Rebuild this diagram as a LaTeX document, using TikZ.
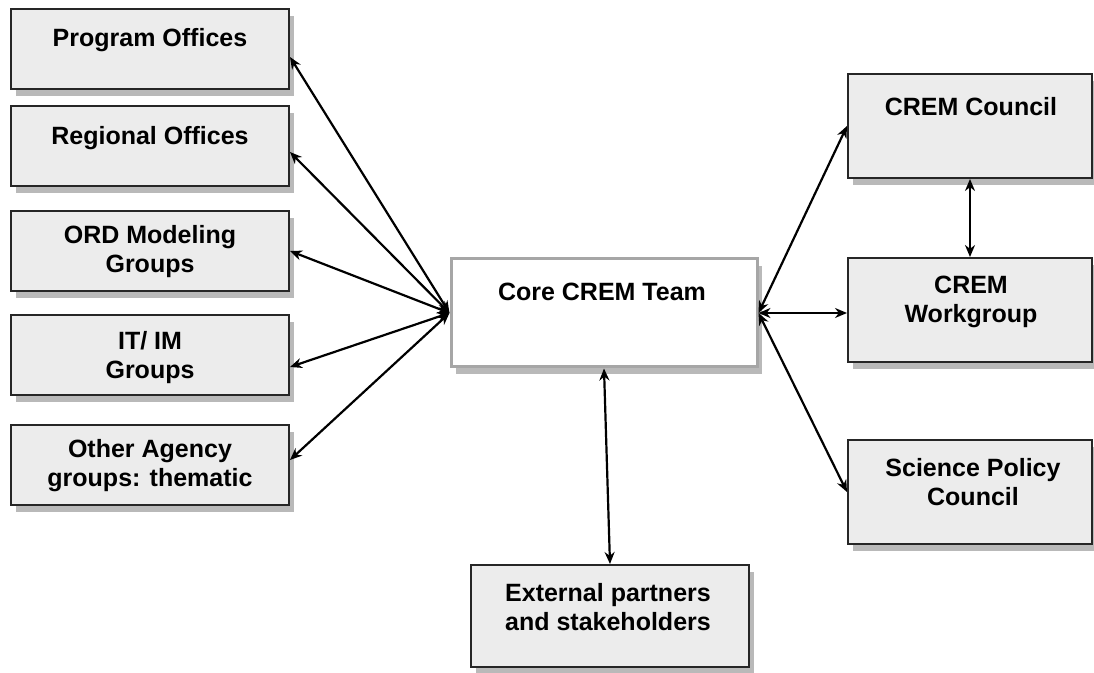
\documentclass[tikz,border=0pt]{standalone}
\usepackage{fontspec}
\setmainfont{Liberation Sans}
\usetikzlibrary{arrows.meta,shadows}
\tikzset{>={Stealth[length=6pt,width=5pt]}}

\begin{document}
\begin{tikzpicture}[x=0.5pt,y=-0.5pt,
  unit/.style={draw=black!85, line width=1pt, fill=gray!15, inner sep=0pt,
    minimum width=139pt, minimum height=40pt,
    drop shadow={shadow xshift=2.5pt, shadow yshift=-3.5pt, fill=gray!55, opacity=1}},
  core/.style={unit, draw=gray!70, line width=1.5pt, fill=white,
    minimum width=153pt, minimum height=54pt},
  side/.style={unit, minimum width=122pt, minimum height=52pt},
  lbl/.style={font=\bfseries\fontsize{12.5}{14.5}\selectfont, align=center, inner sep=0pt},
  link/.style={<->, line width=1.1pt}]

\useasboundingbox (0,0) rectangle (1094,673);

% Left column
\node[unit] (po) at (150,49) {};
\node[unit] (ro) at (150,146) {};
\node[unit] (ord) at (150,251) {};
\node[unit] (it) at (150,355) {};
\node[unit] (oa) at (150,465) {};

% Centre and bottom
\node[core] (core) at (604,313) {};
\node[unit, minimum height=51pt] (ext) at (610,616) {};

% Right column
\node[side] (cc) at (970,126) {};
\node[side] (wg) at (970,310) {};
\node[side] (sp) at (970,492) {};

% Labels
\node[lbl] (po-t) at (150,40) {Program Offices};
\node[lbl] (ro-t) at (150,138) {Regional Offices};
\node[lbl] (ord-t) at (150,252) {ORD Modeling\\Groups};
\node[lbl] (it-t) at (150,358) {IT/ IM\\Groups};
\node[lbl] (oa-t) at (150,466) {Other Agency\\groups: thematic};
\node[lbl] (core-t) at (602,292) {Core CREM Team};
\node[lbl] (ext-t) at (608,607) {External partners\\and stakeholders};
\node[lbl] (cc-t) at (971,107) {CREM Council};
\node[lbl] (wg-t) at (971,302) {CREM\\Workgroup};
\node[lbl] (sp-t) at (973,482) {Science Policy\\Council};

% Links
\draw[link] ([yshift=-4pt]po.east) -- (core.west);
\draw[link] ([yshift=-3pt]ro.east) -- (core.west);
\draw[link] (ord.east) -- (core.west);
\draw[link] ([yshift=-6pt]it.east) -- (core.west);
\draw[link] ([yshift=2.5pt]oa.east) -- (core.west);
\draw[link] (core.east) -- (cc.west);
\draw[link] (core.east) -- (core.east -| wg.west);
\draw[link] (core.east) -- (sp.west);
\draw[link] (cc.south) -- (wg.north);
\draw[link] (core.south) -- (ext.north);

\end{tikzpicture}
\end{document}
